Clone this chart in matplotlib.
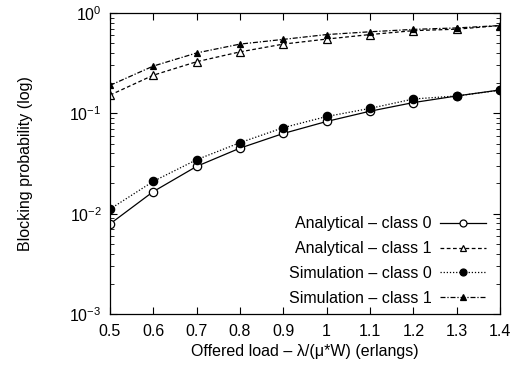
import matplotlib
matplotlib.use("Agg")
import matplotlib.pyplot as plt
from matplotlib.ticker import LogLocator, NullFormatter

plt.rcParams['font.family'] = ['Liberation Sans', 'DejaVu Sans']

load = [0.5, 0.6, 0.7, 0.8, 0.9, 1.0, 1.1, 1.2, 1.3, 1.4]
analytical_c0 = [0.0079, 0.0166, 0.0296, 0.045, 0.063, 0.083, 0.105, 0.128, 0.149, 0.171]
analytical_c1 = [0.152, 0.24, 0.327, 0.41, 0.49, 0.55, 0.61, 0.667, 0.69, 0.75]
simulation_c0 = [0.0111, 0.021, 0.0345, 0.051, 0.072, 0.093, 0.112, 0.139, 0.149, 0.17]
simulation_c1 = [0.19, 0.296, 0.40, 0.49, 0.546, 0.61, 0.65, 0.687, 0.71, 0.75]
xticks = [0.5, 0.6, 0.7, 0.8, 0.9, 1.0, 1.1, 1.2, 1.3, 1.4]
xticklabels = ['0.5', '0.6', '0.7', '0.8', '0.9', '1', '1.1', '1.2', '1.3', '1.4']

fig = plt.figure(figsize=(5.13, 3.72), dpi=100)
ax = fig.add_axes([0.2144, 0.156, 0.7603, 0.809])

fs = 11.5
lw = 0.9
ax.plot(load, analytical_c0, color='black', lw=lw, ls='-', marker='o', mfc='white',
        mec='black', ms=6, mew=0.9, label='Analytical \u2013 class 0')
ax.plot(load, analytical_c1, color='black', lw=lw, ls=(0, (3, 2)), marker='^', mfc='white',
        mec='black', ms=6, mew=0.9, label='Analytical \u2013 class 1')
ax.plot(load, simulation_c0, color='black', lw=lw, ls=(0, (1, 1.5)), marker='o', mfc='black',
        mec='black', ms=6, mew=0.9, label='Simulation \u2013 class 0')
ax.plot(load, simulation_c1, color='black', lw=lw, ls=(0, (4, 1.5, 1, 1.5)), marker='^', mfc='black',
        mec='black', ms=5, mew=0.9, label='Simulation \u2013 class 1')

ax.set_yscale('log')
ax.set_ylim(1e-3, 1)
ax.set_xlim(0.5, 1.4)
ax.set_xticks(xticks)
ax.set_xticklabels(xticklabels)
ax.yaxis.set_major_locator(LogLocator(base=10, numticks=10))
ax.yaxis.set_minor_locator(LogLocator(base=10, subs=range(2, 10), numticks=20))
ax.yaxis.set_minor_formatter(NullFormatter())

ax.tick_params(axis='both', which='both', direction='in', top=True, right=True, labelsize=fs)
ax.tick_params(axis='both', which='major', length=5, width=0.8)
ax.tick_params(axis='both', which='minor', length=3, width=0.6)
ax.tick_params(axis='x', pad=7)
ax.tick_params(axis='y', pad=6)
for s in ax.spines.values():
    s.set_linewidth(0.9)

ax.set_xlabel('Offered load \u2013 \u03bb/(\u03bc*W) (erlangs)', fontsize=fs, labelpad=4)
ax.set_ylabel('Blocking probability (log)', fontsize=fs, labelpad=26)

leg = ax.legend(loc='lower right', frameon=False, markerfirst=False, fontsize=fs,
                handlelength=2.9, labelspacing=0.62, borderaxespad=0.1,
                handletextpad=0.5, bbox_to_anchor=(0.985, 0.0))
for h in leg.legend_handles:
    h.set_markersize(5)

fig.savefig('out.png', dpi=100)
